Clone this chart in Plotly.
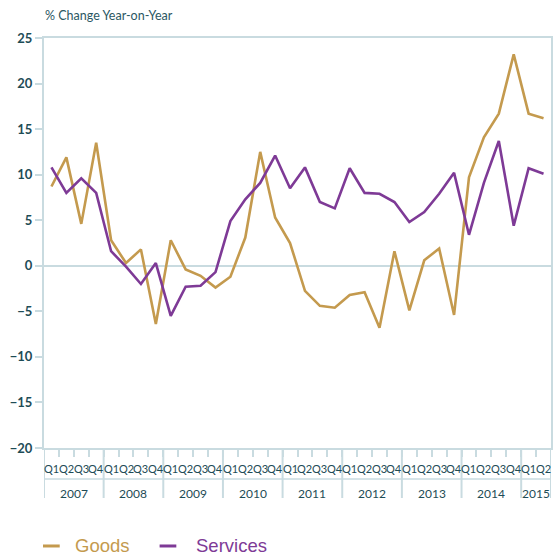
import plotly.graph_objects as go

years = ["2007", "2008", "2009", "2010", "2011", "2012", "2013", "2014", "2015"]
quarters_per_year = [4, 4, 4, 4, 4, 4, 4, 4, 2]
quarter_names = ["Q1", "Q2", "Q3", "Q4"]

goods = [8.7, 11.9, 4.6, 13.5, 2.8, 0.3, 1.8, -6.4, 2.8, -0.4, -1.1, -2.4,
         -1.2, 3.1, 12.5, 5.3, 2.5, -2.75, -4.4, -4.6, -3.2, -2.9, -6.8, 1.6,
         -4.9, 0.6, 1.9, -5.4, 9.7, 14.1, 16.7, 23.2, 16.7, 16.2]
services = [10.8, 8.0, 9.6, 8.0, 1.6, -0.1, -2.0, 0.3, -5.5, -2.3, -2.2, -0.7,
            4.9, 7.3, 9.1, 12.1, 8.5, 10.8, 7.0, 6.3, 10.7, 8.0, 7.9, 7.0,
            4.8, 5.9, 7.9, 10.2, 3.4, 9.1, 13.7, 4.4, 10.7, 10.1]
y_ticks = [-20, -15, -10, -5, 0, 5, 10, 15, 20, 25]

GOLD = "#C49A4E"
PURPLE = "#7E3A96"
AXIS = "#C9DBE0"
TEXT = "#1E4C56"

q_labels = []
for n in quarters_per_year:
    q_labels += quarter_names[:n]
x = list(range(len(q_labels)))

fig = go.Figure()
fig.add_trace(go.Scatter(x=x, y=goods, mode="lines", name="Goods",
                         line=dict(color=GOLD, width=2.6), showlegend=False))
fig.add_trace(go.Scatter(x=x, y=services, mode="lines", name="Services",
                         line=dict(color=PURPLE, width=2.6), showlegend=False))

annotations = []
shapes = []

for i, q in enumerate(q_labels):
    annotations.append(dict(x=i, y=-0.051, xref="x", yref="paper", text=q,
                            showarrow=False, xanchor="center", yanchor="middle",
                            font=dict(family="Lato", size=11, color=TEXT)))

start = 0
bounds = [-0.5]
for yr, n in zip(years, quarters_per_year):
    center = start + (n - 1) / 2
    annotations.append(dict(x=center, y=-0.112, xref="x", yref="paper", text=yr,
                            showarrow=False, xanchor="center", yanchor="middle",
                            font=dict(family="Lato", size=12, color=TEXT)))
    start += n
    bounds.append(start - 0.5)
for b in bounds:
    shapes.append(dict(type="line", xref="x", yref="paper", x0=b, x1=b, y0=0, y1=-0.122,
                       line=dict(color=AXIS, width=2)))
shapes.append(dict(type="line", xref="x", yref="paper", x0=-0.5, x1=len(x) - 0.5,
                   y0=-0.0756, y1=-0.0756, line=dict(color=AXIS, width=1.5)))

annotations.append(dict(x=-0.002, y=1.056, xref="paper", yref="paper",
                        text="% Change Year-on-Year", showarrow=False,
                        xanchor="left", yanchor="middle",
                        font=dict(family="Lato", size=12.5, color="#2B5863")))

for name, color, x_dash0, x_text in [("Goods", GOLD, -0.002, 0.057),
                                       ("Services", PURPLE, 0.228, 0.2967)]:
    shapes.append(dict(type="line", xref="paper", yref="paper", x0=x_dash0, x1=x_dash0 + 0.033,
                       y0=-0.239, y1=-0.239, line=dict(color=color, width=3)))
    annotations.append(dict(x=x_text, y=-0.239, xref="paper", yref="paper", text=name,
                            showarrow=False, xanchor="left", yanchor="middle",
                            font=dict(family="Liberation Sans", size=18.5, color=color)))

fig.update_layout(
    width=560, height=555,
    margin=dict(l=44, r=7, t=38, b=107),
    paper_bgcolor="white", plot_bgcolor="white",
    annotations=annotations, shapes=shapes,
    xaxis=dict(range=[-0.5, len(x) - 0.5], showgrid=False, zeroline=False,
               showline=True, linecolor=AXIS, linewidth=2, mirror=True,
               tickmode="array", tickvals=[i + 0.5 for i in range(len(x) - 1)],
               ticks="outside", ticklen=7, tickcolor=AXIS, tickwidth=1.5,
               showticklabels=False, fixedrange=True),
    yaxis=dict(range=[-20, 25], showgrid=False, zeroline=True, zerolinecolor=AXIS,
               zerolinewidth=2, showline=True, linecolor=AXIS, linewidth=2, mirror=True,
               tickmode="array", tickvals=y_ticks, ticks="outside", ticklen=7,
               tickcolor=AXIS, tickwidth=1.5,
               tickfont=dict(family="Lato", size=13, color=TEXT, weight="bold"),
               fixedrange=True),
)

fig.write_html("out.html", config={"displayModeBar": False},
               post_script="document.body.style.margin='0';document.body.style.overflow='hidden';")
